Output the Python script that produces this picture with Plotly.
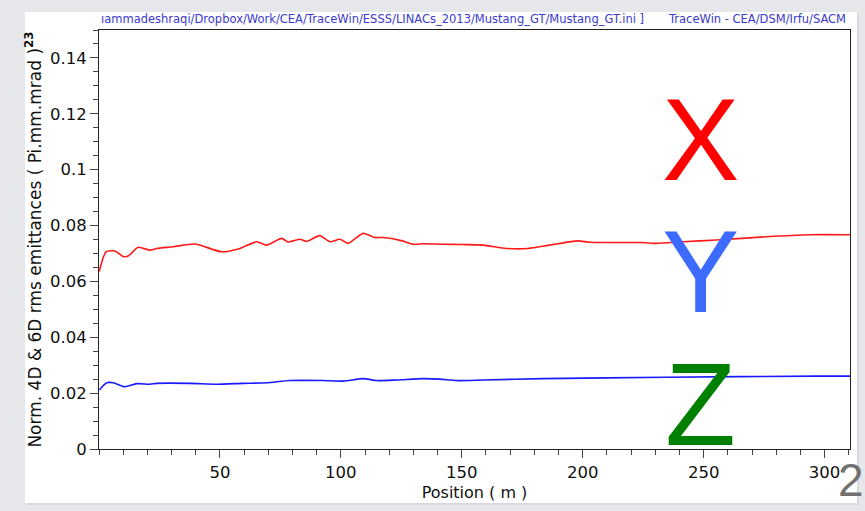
import plotly.graph_objects as go

# Beam emittance along the linac (TraceWin output)
pos_x = [0.1, 2.9, 6.6, 10.0, 12.1, 16.2, 21.1, 23.8, 30.7, 39.7, 50.7, 58.3, 65.2, 69.3,
         75.5, 78.2, 83.1, 85.8, 91.3, 95.5, 99.6, 103.0, 109.2, 114.0, 117.5, 125.0,
         129.9, 134.0, 142.3, 150.0, 158.8, 168.5, 177.4, 186.4, 198.0, 202.9, 224.9,
         230.4, 241.4, 255.2, 275.9, 293.8, 310.5]
emit_x = [0.0635, 0.0706, 0.0709, 0.0689, 0.0691, 0.0722, 0.0712, 0.0718, 0.0724, 0.0734,
          0.0706, 0.0718, 0.0742, 0.0730, 0.0754, 0.0741, 0.0751, 0.0743, 0.0764, 0.0742,
          0.0751, 0.0736, 0.0772, 0.0757, 0.0757, 0.0746, 0.0733, 0.0735, 0.0733, 0.0732,
          0.0730, 0.0718, 0.0718, 0.0730, 0.0745, 0.0740, 0.0739, 0.0736, 0.0742, 0.0748,
          0.0760, 0.0767, 0.0767]

pos_z = [0.1, 3.2, 5.9, 10.7, 15.6, 21.1, 23.8, 37.6, 48.6, 59.6, 69.3, 78.9, 92.7, 101.0,
         109.2, 114.7, 123.0, 134.0, 141.0, 147.8, 158.8, 183.6, 234.6, 296.6, 310.5]
emit_z = [0.0211, 0.0237, 0.0237, 0.0223, 0.0234, 0.0232, 0.0235, 0.0235, 0.0232, 0.0235,
          0.0237, 0.0245, 0.0245, 0.0243, 0.0252, 0.0245, 0.0247, 0.0252, 0.0250, 0.0245,
          0.0247, 0.0252, 0.0257, 0.0261, 0.0261]

x_ticks = [50, 100, 150, 200, 250, 300]
y_ticks = [0, 0.02, 0.04, 0.06, 0.08, 0.1, 0.12, 0.14]
y_tick_text = ["0", "0.02", "0.04", "0.06", "0.08", "0.1", "0.12", "0.14"]

W, H = 865, 511
L, R, T, B = 99, 15, 30, 62
pw, ph = W - L - R, H - T - B


def px(xp):
    return (xp - L) / pw


def py(yp):
    return (H - B - yp) / ph


tick_font = dict(family="DejaVu Sans", size=16.5, color="#111111")

fig = go.Figure()
fig.add_trace(go.Scatter(x=pos_x, y=emit_x, mode="lines",
                         line=dict(color="#ff1a1a", width=1.6, shape="spline", smoothing=0.6),
                         showlegend=False))
fig.add_trace(go.Scatter(x=pos_z, y=emit_z, mode="lines",
                         line=dict(color="#1a1aff", width=1.6, shape="spline", smoothing=0.6),
                         showlegend=False))

axis_common = dict(showgrid=False, zeroline=False, showline=True, linecolor="#222222",
                   linewidth=1, mirror=True, ticks="outside", tickcolor="#444444",
                   ticklen=8, tickfont=tick_font)

fig.update_xaxes(range=[0, 310.5], tickvals=x_ticks,
                 minor=dict(dtick=10, tick0=0, ticks="outside", ticklen=5, tickcolor="#444444"),
                 title=dict(text="Position ( m )", font=dict(family="DejaVu Sans", size=16, color="#111111"),
                            standoff=6),
                 **axis_common)
fig.update_yaxes(range=[0, 0.15], tickvals=y_ticks, ticktext=y_tick_text,
                 minor=dict(dtick=0.005, tick0=0, ticks="outside", ticklen=5, tickcolor="#444444"),
                 title=dict(text="Norm. 4D & 6D rms emittances ( Pi.mm.mrad )<sup><b>23</b></sup>",
                            font=dict(family="DejaVu Sans", size=17, color="#111111"), standoff=4),
                 **axis_common)

shapes = [
    # slide background panel with a faint shadow
    dict(type="rect", xref="paper", yref="paper", x0=px(27), x1=px(859), y0=py(505), y1=py(14),
         fillcolor="#d6d9de", line=dict(width=0), layer="below"),
    dict(type="rect", xref="paper", yref="paper", x0=px(25), x1=px(857), y0=py(503), y1=py(12),
         fillcolor="#ffffff", line=dict(width=0), layer="below"),
]

annotations = [
    dict(text="ıammadeshraqi/Dropbox/Work/CEA/TraceWin/ESSS/LINACs_2013/Mustang_GT/Mustang_GT.ini ]",
         xref="paper", yref="paper", x=px(99), y=py(19), xanchor="left", yanchor="middle",
         showarrow=False, font=dict(family="DejaVu Sans", size=11.5, color="#3a3ad0")),
    dict(text="TraceWin - CEA/DSM/Irfu/SACM",
         xref="paper", yref="paper", x=px(848), y=py(19), xanchor="right", yanchor="middle",
         showarrow=False, font=dict(family="DejaVu Sans", size=11.5, color="#3a3ad0")),
    dict(text="X", x=248.5, y=0.1108, xref="x", yref="y", showarrow=False,
         font=dict(family="Liberation Sans", size=116, color="#ff0000")),
    dict(text="Y", x=248.5, y=0.0633, xref="x", yref="y", showarrow=False,
         font=dict(family="Liberation Sans", size=116, color="#3d6bff")),
    dict(text="Z", x=248.5, y=0.0158, xref="x", yref="y", showarrow=False,
         font=dict(family="Liberation Sans", size=116, color="#008000")),
    dict(text="2", xref="paper", yref="paper", x=px(851), y=py(480), xanchor="center", yanchor="middle",
         showarrow=False, font=dict(family="Liberation Sans", size=46, color="#707070")),
]

fig.update_layout(width=W, height=H, margin=dict(l=L, r=R, t=T, b=B),
                  paper_bgcolor="#e5e7eb", plot_bgcolor="#ffffff",
                  shapes=shapes, annotations=annotations)

fig.write_html("out.html")
